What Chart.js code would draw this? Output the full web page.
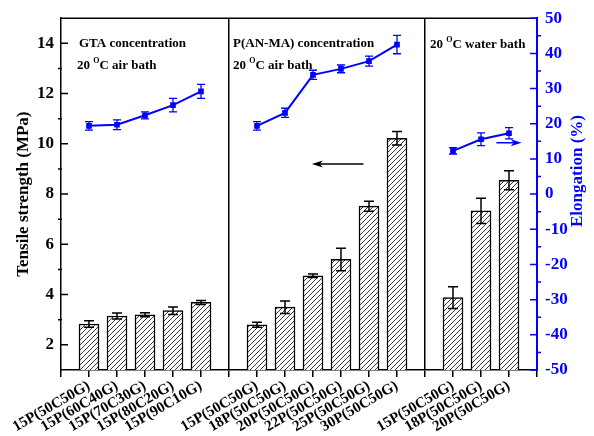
<!DOCTYPE html>
<html>
<head>
<meta charset="utf-8">
<script src="https://cdn.jsdelivr.net/npm/chart.js@4.4.1/dist/chart.umd.min.js"></script>
<style>
  html, body { margin: 0; padding: 0; background: #fff; }
  #wrap { width: 594px; height: 436px; }
</style>
</head>
<body>
<div id="wrap"><canvas id="c" width="594" height="436"></canvas></div>
<script>
// Sample names along the x axis; empty slots separate the three groups
const categories = ['', '15P(50C50G)', '15P(60C40G)', '15P(70C30G)', '15P(80C20G)', '15P(90C10G)', '',
  '15P(50C50G)', '18P(50C50G)', '20P(50C50G)', '22P(50C50G)', '25P(50C50G)', '30P(50C50G)', '',
  '15P(50C50G)', '18P(50C50G)', '20P(50C50G)', ''];

// Tensile strength (MPa) and its standard deviation
const tensile    = [null, 2.83, 3.15, 3.20, 3.36, 3.69, null, 2.80, 3.50, 4.75, 5.40, 7.52, 10.22, null, 3.88, 7.33, 8.55, null];
const tensileErr = [null, 0.13, 0.12, 0.08, 0.15, 0.08, null, 0.10, 0.25, 0.07, 0.45, 0.20, 0.27, null, 0.43, 0.50, 0.38, null];

// Elongation (%) and its standard deviation
const elongation    = [null, 19.4, 19.7, 22.4, 25.3, 29.2, null, 19.4, 23.1, 33.9, 35.6, 37.8, 42.5, null, 12.3, 15.6, 17.3, null];
const elongationErr = [null, 1.2, 1.4, 1.0, 1.9, 2.0, null, 1.2, 1.3, 1.3, 1.1, 1.4, 2.6, null, 0.9, 1.8, 1.6, null];

// Axis ticks
const leftTicks  = [2, 4, 6, 8, 10, 12, 14];
const leftMinor  = [3, 5, 7, 9, 11, 13];
const rightTicks = [-50, -40, -30, -20, -10, 0, 10, 20, 30, 40, 50];
const rightMinor = [-45, -35, -25, -15, -5, 5, 15, 25, 35, 45];

// Group boundaries (category index)
const separators = [6, 13];

const SERIF = "'Liberation Serif', 'Times New Roman', serif";
const BLUE = '#0000ff';

function hatchPattern() {
  const s = 5;
  const c = document.createElement('canvas');
  c.width = s; c.height = s;
  const g = c.getContext('2d');
  g.fillStyle = '#fff';
  g.fillRect(0, 0, s, s);
  g.strokeStyle = '#222';
  g.lineWidth = 0.9;
  g.beginPath();
  g.moveTo(-1, s + 1); g.lineTo(s + 1, -1);
  g.moveTo(-1, 1); g.lineTo(1, -1);
  g.moveTo(s - 1, s + 1); g.lineTo(s + 1, s - 1);
  g.stroke();
  return g.createPattern(c, 'repeat');
}

// Vertical error bars for any dataset carrying an `errors` array
const errorBars = {
  id: 'errorBars',
  afterDatasetsDraw(chart) {
    const ctx = chart.ctx;
    chart.data.datasets.forEach((ds, di) => {
      if (!ds.errors) return;
      const meta = chart.getDatasetMeta(di);
      const sc = chart.scales[ds.yAxisID];
      ctx.save();
      ctx.strokeStyle = ds.errColor;
      ctx.lineWidth = ds.errWidth;
      meta.data.forEach((el, i) => {
        const v = ds.data[i], e = ds.errors[i];
        if (v == null || e == null) return;
        const x = el.x;
        const y1 = sc.getPixelForValue(v + e);
        const y2 = sc.getPixelForValue(v - e);
        const h = ds.capHalf;
        ctx.beginPath();
        ctx.moveTo(x, y1); ctx.lineTo(x, y2);
        ctx.moveTo(x - h, y1); ctx.lineTo(x + h, y1);
        ctx.moveTo(x - h, y2); ctx.lineTo(x + h, y2);
        ctx.stroke();
      });
      ctx.restore();
    });
  }
};

function drawTemp(ctx, x, y, rest) {
  ctx.font = 'bold 13px ' + SERIF;
  ctx.fillText('20 ', x, y);
  let cx = x + ctx.measureText('20 ').width;
  ctx.font = 'bold 8px ' + SERIF;
  ctx.fillText('O', cx, y - 6);
  cx += ctx.measureText('O').width;
  ctx.font = 'bold 13px ' + SERIF;
  ctx.fillText('C ' + rest, cx, y);
}

function arrow(ctx, x1, y, x2, color) {
  const dir = Math.sign(x2 - x1);
  ctx.save();
  ctx.strokeStyle = color;
  ctx.fillStyle = color;
  ctx.lineWidth = 1.5;
  ctx.beginPath();
  ctx.moveTo(x1, y); ctx.lineTo(x2 - dir * 8, y);
  ctx.stroke();
  ctx.beginPath();
  ctx.moveTo(x2, y);
  ctx.lineTo(x2 - dir * 11, y - 3.5);
  ctx.lineTo(x2 - dir * 8, y);
  ctx.lineTo(x2 - dir * 11, y + 3.5);
  ctx.closePath();
  ctx.fill();
  ctx.restore();
}

// Frame, inner tick marks, group captions, arrows and axis titles
const decorations = {
  id: 'decorations',
  afterDraw(chart) {
    const { ctx, chartArea: a, scales } = chart;
    const yl = scales.y, yr = scales.y2, xs = scales.x;
    ctx.save();
    // top frame
    ctx.strokeStyle = '#000';
    ctx.lineWidth = 1.5;
    ctx.beginPath();
    ctx.moveTo(a.left, a.top); ctx.lineTo(a.right, a.top);
    ctx.stroke();
    // left axis tick marks
    ctx.beginPath();
    leftTicks.forEach(v => { const y = yl.getPixelForValue(v); ctx.moveTo(a.left, y); ctx.lineTo(a.left + 7, y); });
    leftMinor.forEach(v => { const y = yl.getPixelForValue(v); ctx.moveTo(a.left - 3, y); ctx.lineTo(a.left + 1, y); });
    ctx.stroke();
    // right axis tick marks
    ctx.strokeStyle = BLUE;
    ctx.beginPath();
    rightTicks.forEach(v => { const y = yr.getPixelForValue(v); ctx.moveTo(a.right - 7, y); ctx.lineTo(a.right, y); });
    rightMinor.forEach(v => { const y = yr.getPixelForValue(v); ctx.moveTo(a.right, y); ctx.lineTo(a.right + 4, y); });
    ctx.stroke();

    // group captions
    ctx.fillStyle = '#000';
    ctx.textAlign = 'left';
    ctx.textBaseline = 'alphabetic';
    ctx.font = 'bold 13px ' + SERIF;
    ctx.fillText('GTA concentration', a.left + 18, a.top + 29);
    drawTemp(ctx, a.left + 16, a.top + 51, 'air bath');
    const g2 = xs.getPixelForValue(6) + 4;
    ctx.font = 'bold 13px ' + SERIF;
    ctx.fillText('P(AN-MA) concentration', g2, a.top + 29);
    drawTemp(ctx, g2, a.top + 51, 'air bath');
    drawTemp(ctx, xs.getPixelForValue(13) + 5, a.top + 30, 'water bath');

    // arrows pointing to the matching axis
    arrow(ctx, xs.getPixelForValue(10.8), yl.getPixelForValue(9.2), xs.getPixelForValue(8.96), '#000');
    arrow(ctx, xs.getPixelForValue(15.55), yr.getPixelForValue(14.6), xs.getPixelForValue(16.45), BLUE);

    // axis titles
    ctx.font = 'bold 17px ' + SERIF;
    ctx.textAlign = 'center';
    ctx.textBaseline = 'middle';
    ctx.translate(24, (a.top + a.bottom) / 2);
    ctx.rotate(-Math.PI / 2);
    ctx.fillStyle = '#000';
    ctx.fillText('Tensile strength (MPa)', 0, 0);
    ctx.setTransform(1, 0, 0, 1, 0, 0);
    ctx.translate(578, 171);
    ctx.rotate(-Math.PI / 2);
    ctx.fillStyle = BLUE;
    ctx.fillText('Elongation (%)', 0, 0);
    ctx.restore();
  }
};

new Chart(document.getElementById('c'), {
  type: 'bar',
  data: {
    labels: categories,
    datasets: [
      {
        type: 'line',
        label: 'Elongation',
        data: elongation,
        errors: elongationErr,
        errColor: BLUE, errWidth: 1.3, capHalf: 4,
        yAxisID: 'y2',
        borderColor: BLUE,
        backgroundColor: BLUE,
        borderWidth: 2,
        pointStyle: 'rect',
        pointRadius: 4,
        pointBorderWidth: 0,
        spanGaps: false,
        tension: 0,
        order: 0
      },
      {
        type: 'bar',
        label: 'Tensile strength',
        data: tensile,
        errors: tensileErr,
        errColor: '#000', errWidth: 1.5, capHalf: 5,
        yAxisID: 'y',
        backgroundColor: hatchPattern(),
        borderColor: '#000',
        borderWidth: 1.5,
        barThickness: 20,
        order: 1
      }
    ]
  },
  options: {
    responsive: false,
    animation: false,
    layout: { padding: { top: 17, left: 0, right: 0, bottom: 0 } },
    plugins: { legend: { display: false }, tooltip: { enabled: false } },
    scales: {
      x: {
        type: 'category',
        offset: false,
        grid: {
          offset: false,
          drawOnChartArea: true,
          color: ctx => separators.includes(ctx.index) ? '#000' : 'rgba(0,0,0,0)',
          lineWidth: 1.5,
          drawTicks: true,
          tickLength: 7,
          tickColor: '#000',
          tickWidth: 1.5
        },
        border: { display: true, color: '#000', width: 1.5 },
        ticks: {
          autoSkip: false,
          maxRotation: 30,
          minRotation: 30,
          padding: 0,
          color: '#000',
          font: { family: SERIF, size: 15, weight: 'bold' }
        },
        afterFit: s => { s.height = 66; }
      },
      y: {
        position: 'left',
        min: 1,
        max: 15,
        afterBuildTicks: s => { s.ticks = leftTicks.map(v => ({ value: v })); },
        grid: { display: true, drawOnChartArea: false, drawTicks: false },
        border: { display: true, color: '#000', width: 1.5 },
        ticks: { padding: 7, color: '#000', font: { family: SERIF, size: 17, weight: 'bold' } },
        afterFit: s => { s.width = 61; }
      },
      y2: {
        position: 'right',
        min: -50,
        max: 50,
        afterBuildTicks: s => { s.ticks = rightTicks.map(v => ({ value: v })); },
        grid: { display: true, drawOnChartArea: false, drawTicks: false },
        border: { display: true, color: BLUE, width: 2 },
        ticks: { padding: 8, color: BLUE, font: { family: SERIF, size: 17, weight: 'bold' } },
        afterFit: s => { s.width = 57; }
      }
    }
  },
  plugins: [errorBars, decorations]
});
</script>
</body>
</html>
